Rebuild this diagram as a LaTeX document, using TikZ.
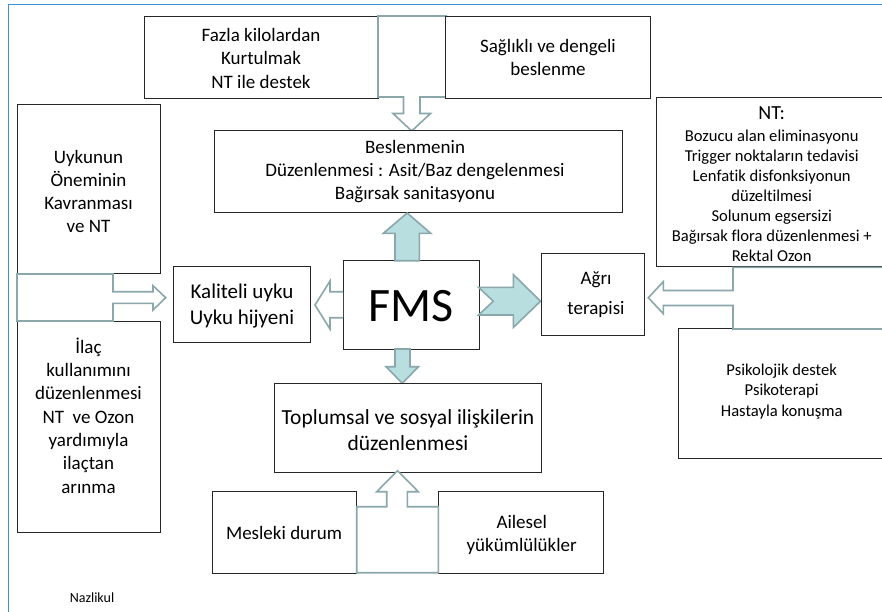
\documentclass[tikz,border=0pt]{standalone}
\usepackage{fontspec}
\setmainfont{Carlito}[Ligatures=NoCommon]
\definecolor{boxc}{HTML}{262626}
\definecolor{arrc}{HTML}{8AA7AB}
\definecolor{arrf}{HTML}{B9DEE0}
\definecolor{framec}{HTML}{3A93D8}
\newcommand{\fsz}[2]{\fontsize{#1}{#2}\selectfont}
\begin{document}
\begin{tikzpicture}[x=1pt,y=-1pt,
  box/.style={draw=boxc, line width=0.9pt, fill=white, inner sep=0pt},
  txt/.style={align=center, inner sep=0pt, text=black},
  blockarrow/.style={draw=arrc, line width=1.6pt, fill=arrf, line join=miter},
  callout/.style={draw=arrc, line width=1.6pt, fill=white, line join=miter},
  framel/.style={draw=framec, line width=1.6pt}]
\useasboundingbox (0,0) rectangle (882,612);
\clip (0,0) rectangle (882,612);
\fill[white] (0,0) rectangle (882,612);
\draw[framel] (884,4.7) -- (8.3,4.7) -- (8.3,614);

% ---- top group
\node[box, minimum width=234, minimum height=82] (fazla) at (261,57) {};
\node[txt, font=\fsz{19}{23.3}] (fazlaT) at (261,58.3) {Fazla kilolardan\\Kurtulmak\\NT ile destek};
\draw[callout] (378,16) -- (446,16) -- (446,97) -- (420,97) -- (420,113.5) -- (430.5,113.5)
  -- (411.7,131) -- (393,113.5) -- (403.5,113.5) -- (403.5,97) -- (378,97) -- cycle;
\node[box, minimum width=205.5, minimum height=82] (saglik) at (548,57) {};
\node[txt, font=\fsz{19}{23.3}] (saglikT) at (548,57.7) {Sağlıklı ve dengeli\\beslenme};

\node[box, minimum width=408, minimum height=82] (besl) at (418,171.3) {};
\node[txt, font=\fsz{19}{23.3}] (beslT) at (415,171.7) {Beslenmenin\\Düzenlenmesi : Asit/Baz dengelenmesi\\Bağırsak sanitasyonu};

% ---- left group
\node[box, minimum width=143, minimum height=169] (uyku) at (88.5,188.5) {};
\node[txt, font=\fsz{19}{23.3}] (uykuT) at (88.5,191.5) {Uykunun\\Öneminin\\Kavranması\\ve NT};
\node[box, minimum width=143, minimum height=211] (ilac) at (88.5,426.5) {};
\node[txt, font=\fsz{19}{23.3}] (ilacT) at (88.5,415.5) {İlaç\\kullanımını\\düzenlenmesi\\NT~ ve Ozon\\yardımıyla\\ilaçtan\\arınma};
\draw[callout] (17,274) -- (113,274) -- (113,291.7) -- (153,291.7) -- (153,285.7) -- (165.7,297.7)
  -- (153,310) -- (153,303.3) -- (113,303.3) -- (113,321) -- (17,321) -- cycle;

\node[box, minimum width=137.5, minimum height=75.5] (kalite) at (242,304.5) {};
\node[txt, font=\fsz{21}{25.7}] (kaliteT) at (242,306) {Kaliteli uyku\\Uyku hijyeni};

% ---- centre
\node[box, minimum width=136, minimum height=88.3] (fms) at (411,304.8) {};
\node[txt, font=\fsz{48}{56}] (fmsT) at (411,306) {FMS};

\draw[blockarrow] (395,260.7) -- (395,233.3) -- (383.3,233.3) -- (407.2,213) -- (430.7,233.3)
  -- (419.3,233.3) -- (419.3,260.7) -- cycle;
\draw[blockarrow] (395,349) -- (395,366.7) -- (386,366.7) -- (402.3,383.3) -- (418.5,366.7)
  -- (410,366.7) -- (410,349) -- cycle;
\draw[callout] (343,291.7) -- (330,291.7) -- (330,281) -- (315,305) -- (330,329) -- (330,317.7)
  -- (343,317.7);
\draw[blockarrow] (478.5,287.3) -- (513.3,287.3) -- (513.3,274.5) -- (540.5,301.2) -- (513.3,327.5)
  -- (513.3,315) -- (478.5,315) -- (493.3,301.2) -- cycle;

% ---- right group
\node[box, minimum width=103, minimum height=81.7] (agri) at (592.5,294.2) {};
\node[txt, font=\fsz{19}{30}] (agriT) at (596,294.5) {Ağrı\hspace{8pt}\\terapisi};

\node[box, minimum width=232, minimum height=169] (nt) at (772,182.3) {};
\node[txt, font=\fsz{20}{23}] (ntH) at (771.7,112.7) {NT:};
\node[txt, font=\fsz{16.6}{20}] (ntT) at (771.7,195.7) {Bozucu alan eliminasyonu\\Trigger noktaların tedavisi\\Lenfatik disfonksiyonun\\düzeltilmesi\\Solunum egsersizi\\Bağırsak flora düzenlenmesi +\\Rektal Ozon};

\node[box, minimum width=207, minimum height=130] (psiko) at (781.5,393.3) {};
\node[txt, font=\fsz{16.6}{20.3}] (psikoT) at (781.7,391.5) {Psikolojik destek\\Psikoterapi\\Hastayla konuşma};

\draw[callout] (900,267.3) -- (733,267.3) -- (733,290.5) -- (663.3,290.5) -- (663.3,281.7) -- (648.3,297.7)
  -- (663.3,313.7) -- (663.3,305.5) -- (733,305.5) -- (733,329) -- (900,329);

% ---- bottom group
\node[box, minimum width=267, minimum height=89] (toplum) at (407.5,427.8) {};
\node[txt, font=\fsz{21.5}{26.5}] (toplumT) at (408,430) {Toplumsal ve sosyal ilişkilerin\\düzenlenmesi};

\node[box, minimum width=144.5, minimum height=81.6] (meslek) at (284.5,532.5) {};
\node[txt, font=\fsz{19}{23}] (meslekT) at (284,533.3) {Mesleki durum};
\node[box, minimum width=164.7, minimum height=81.6] (aile) at (520.7,532.5) {};
\node[txt, font=\fsz{19}{22.7}] (aileT) at (521.7,534.7) {Ailesel\\yükümlülükler};
\draw[callout] (356.7,506.7) -- (386.7,506.7) -- (386.7,491.7) -- (376.7,491.7) -- (397.5,470.7)
  -- (418.3,491.7) -- (407.3,491.7) -- (407.3,506.7) -- (438.3,506.7) -- (438.3,572.7)
  -- (356.7,572.7) -- cycle;

\node[txt, font=\fsz{14}{17}] (naz) at (92,597.7) {Nazlikul};
\end{tikzpicture}
\end{document}
